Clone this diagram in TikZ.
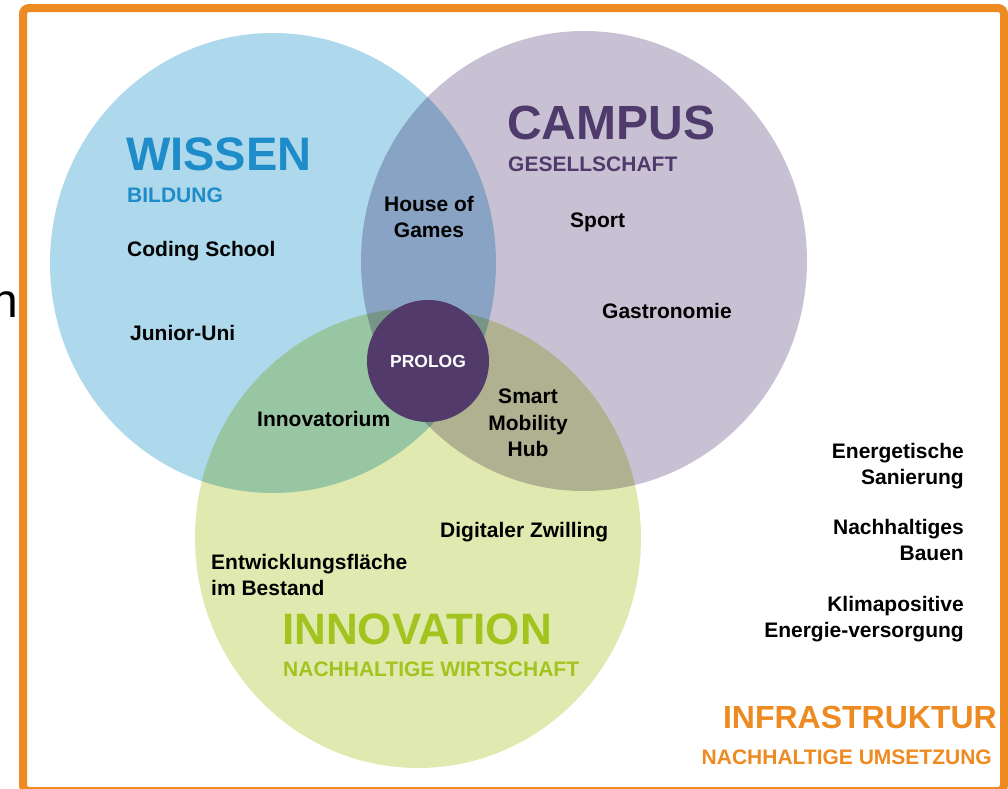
\documentclass[tikz,border=0pt]{standalone}
\usepackage{fontspec}
\setmainfont{Liberation Sans}
\usepackage{tikz}
\usetikzlibrary{shapes,positioning}
\definecolor{wissenblau}{HTML}{1E8CC8}
\definecolor{wissenhell}{HTML}{AED8EC}
\definecolor{campuslila}{HTML}{4F3B6B}
\definecolor{campushell}{HTML}{C8C1D3}
\definecolor{innogruen}{HTML}{A3C31E}
\definecolor{innohell}{HTML}{E0EAB0}
\definecolor{prologlila}{HTML}{523B6B}
\definecolor{infraorange}{HTML}{EE8A22}

\begin{document}
\begin{tikzpicture}[x=1pt,y=-1pt]
    \tikzstyle{every node}+=[inner sep=0pt]
    \tikzstyle{kreis}=[ellipse, minimum width=446pt, minimum height=460pt]
    \tikzstyle{eintrag}=[font=\fontsize{21}{26.5}\selectfont\bfseries, align=center]
    \tikzstyle{grosstitel}=[font=\fontsize{47}{50}\selectfont\bfseries, anchor=base west]
    \tikzstyle{untertitel}=[font=\fontsize{21}{24}\selectfont\bfseries, anchor=base west]
    \useasboundingbox (0,0) rectangle (1008,788);
    % die drei Kreise
    \begin{scope}[blend group=multiply]
        \node [kreis, fill=wissenhell] (wissen) at (273,263) {};
        \node [kreis, fill=campushell] (campus) at (584,261) {};
        \node [kreis, fill=innohell] (innovation) at (418,538) {};
    \end{scope}
    \node [circle, fill=prologlila, minimum size=122pt, text=white,
        font=\fontsize{17.5}{20}\selectfont\bfseries] (prolog) at (428,361) {PROLOG};
    % Rahmen
    \draw [infraorange, line width=8pt, rounded corners=6pt] (23,8) rectangle (1004,791);
    \node [font=\fontsize{48}{50}\selectfont, anchor=base east] (rest) at (18,317) {n};
    % Wissen
    \node [grosstitel, text=wissenblau] (wissentitel) at (126,170) {WISSEN};
    \node [untertitel, text=wissenblau] (bildung) at (127,202) {BILDUNG};
    \node [eintrag, anchor=base west] (coding) at (127,256) {Coding School};
    \node [eintrag, anchor=base west] (junior) at (130,340) {Junior-Uni};
    \node [eintrag] (house) at (429,217) {House of\\Games};
    % Campus
    \node [grosstitel, text=campuslila, font=\fontsize{48}{50}\selectfont\bfseries] (campustitel) at (507,139) {CAMPUS};
    \node [untertitel, text=campuslila] (gesellschaft) at (508,171) {GESELLSCHAFT};
    \node [eintrag, anchor=base west] (sport) at (570,227) {Sport};
    \node [eintrag, anchor=base west] (gastro) at (602,318) {Gastronomie};
    \node [eintrag] (smart) at (528,423) {Smart\\Mobility\\Hub};
    % Innovation
    \node [eintrag, anchor=base west] (innovatorium) at (257,426) {Innovatorium};
    \node [eintrag, anchor=base west] (zwilling) at (440,537) {Digitaler Zwilling};
    \node [eintrag, align=left, anchor=west] (entwicklung) at (211,575) {Entwicklungsfläche\\im Bestand};
    \node [grosstitel, text=innogruen, font=\fontsize{44}{50}\selectfont\bfseries] (innotitel) at (282,644) {INNOVATION};
    \node [untertitel, text=innogruen] (wirtschaft) at (283,676) {NACHHALTIGE WIRTSCHAFT};
    % Infrastruktur
    \node [eintrag, align=right, anchor=east] (sanierung) at (964,466) {Energetische\\Sanierung};
    \node [eintrag, align=right, anchor=east] (bauen) at (964,540) {Nachhaltiges\\Bauen};
    \node [eintrag, align=right, anchor=east] (klima) at (964,619) {Klimapositive\\Energie-versorgung};
    \node [grosstitel, text=infraorange, font=\fontsize{32}{34}\selectfont\bfseries, anchor=base east] (infratitel) at (997,728) {INFRASTRUKTUR};
    \node [untertitel, text=infraorange, anchor=base east] (umsetzung) at (992,764) {NACHHALTIGE UMSETZUNG};
\end{tikzpicture}
\end{document}
